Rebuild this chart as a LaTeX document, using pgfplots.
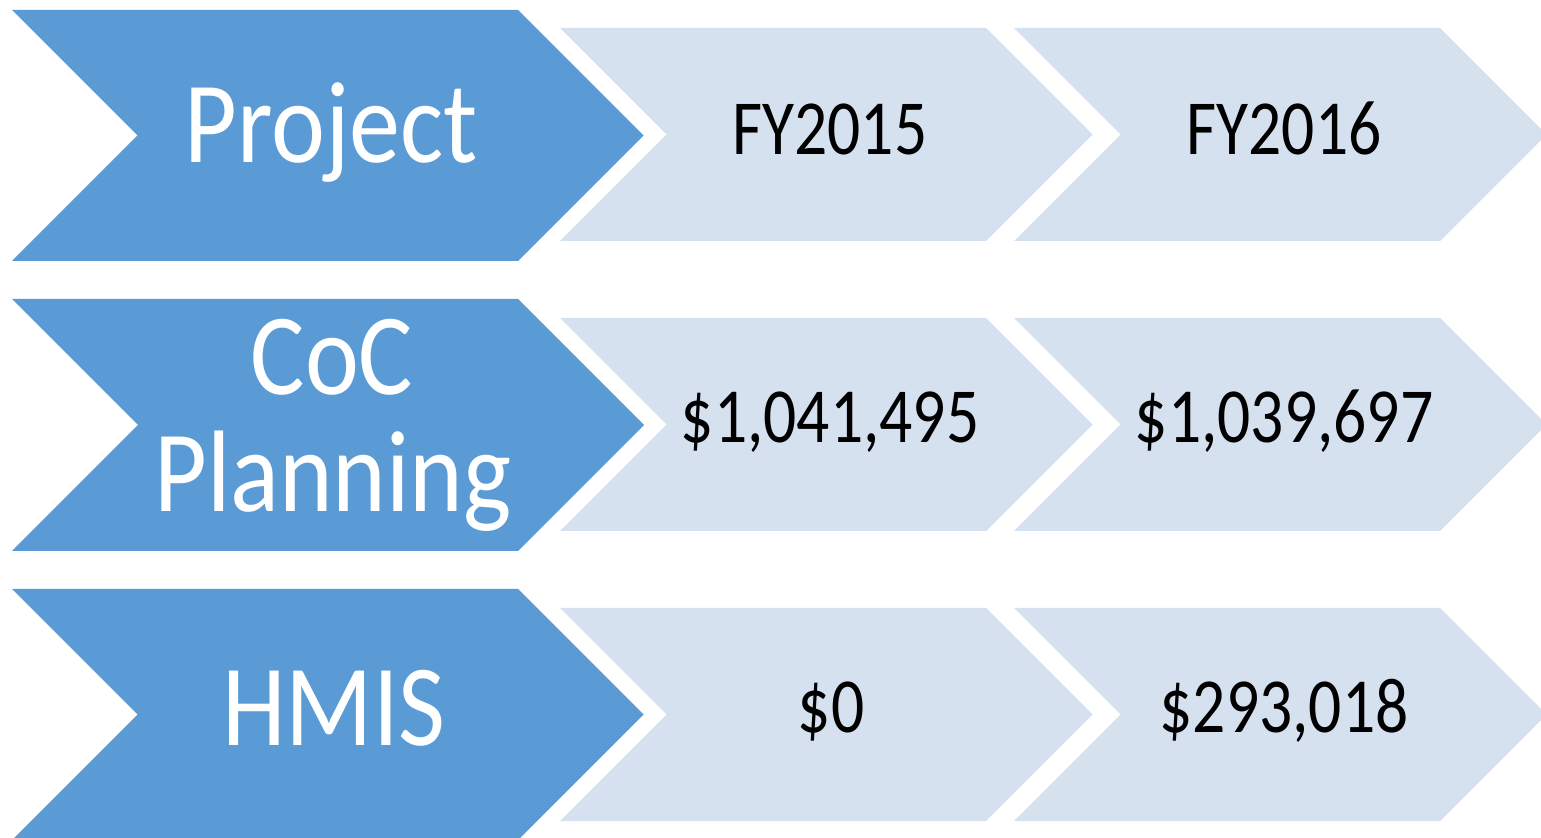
\documentclass[border=0pt]{standalone}
\usepackage{fontspec}
\setmainfont[FakeStretch=0.84]{Carlito}
\newfontfamily\bigfont[FakeStretch=0.88]{Carlito}
\usepackage{pgfplots}
\pgfplotsset{compat=1.18}
\definecolor{dkblue}{HTML}{5B9BD5}
\definecolor{ltblue}{HTML}{D5E1EF}
\begin{document}
\begin{tikzpicture}
\begin{axis}[
  hide axis, scale only axis,
  width=770.5pt, height=419pt,
  xmin=0, xmax=1541, ymin=0, ymax=838,
  y dir=reverse, clip=true,
  every axis plot/.append style={no markers, draw=none},
]
% dark chevrons
\addplot[fill=dkblue] coordinates {(12,10) (518,10) (643.5,135.5) (518,261) (12,261) (137.5,135.5)} -- cycle;
\addplot[fill=dkblue] coordinates {(12,299) (518,299) (644,425) (518,551) (12,551) (138,425)} -- cycle;
\addplot[fill=dkblue] coordinates {(12,589) (518,589) (643.5,714.5) (518,840) (12,840) (137.5,714.5)} -- cycle;
% light chevrons, column 1
\addplot[fill=ltblue] coordinates {(560,28) (986,28) (1092.5,134.5) (986,241) (560,241) (666.5,134.5)} -- cycle;
\addplot[fill=ltblue] coordinates {(560,318) (986,318) (1092.5,424.5) (986,531) (560,531) (666.5,424.5)} -- cycle;
\addplot[fill=ltblue] coordinates {(560,608) (986,608) (1092.5,714.5) (986,821) (560,821) (666.5,714.5)} -- cycle;
% light chevrons, column 2
\addplot[fill=ltblue] coordinates {(1014,28) (1440,28) (1546.5,134.5) (1440,241) (1014,241) (1120.5,134.5)} -- cycle;
\addplot[fill=ltblue] coordinates {(1014,318) (1440,318) (1546.5,424.5) (1440,531) (1014,531) (1120.5,424.5)} -- cycle;
\addplot[fill=ltblue] coordinates {(1014,608) (1440,608) (1546.5,714.5) (1440,821) (1014,821) (1120.5,714.5)} -- cycle;
% labels
\tikzset{big/.style={anchor=base, inner sep=0pt, text=white, font=\bigfont\fontsize{58}{58}\selectfont},
         sm/.style={anchor=base, inner sep=0pt, text=black, font=\fontsize{39}{39}\selectfont}}
\node[big] at (axis cs:331,163) {Project};
\node[big] at (axis cs:332,395) {CoC};
\node[big] at (axis cs:333,512) {Planning};
\node[big] at (axis cs:334,745) {HMIS};
\node[sm] at (axis cs:830,155) {FY2015};
\node[sm] at (axis cs:1284,155) {FY2016};
\node[sm] at (axis cs:830,443) {\$1,041,495};
\node[sm] at (axis cs:1284,443) {\$1,039,697};
\node[sm] at (axis cs:831,733) {\$0};
\node[sm] at (axis cs:1284,733) {\$293,018};
\end{axis}
\pgfresetboundingbox
\useasboundingbox (current axis.south west) rectangle (current axis.north east);
\end{tikzpicture}
\end{document}
